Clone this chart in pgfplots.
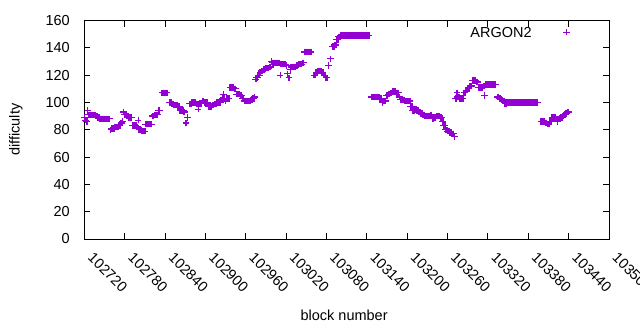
\documentclass[border=0pt]{standalone}
\usepackage{fontspec}
\setmainfont{Liberation Sans}
\usepackage{pgfplots}
\pgfplotsset{compat=1.18}
\definecolor{argon}{HTML}{9400D3}
\begin{document}
\fontsize{14.5}{17}\selectfont
\begin{tikzpicture}
\begin{axis}[
  at={(0pt,0pt)}, anchor=south west,
  scale only axis, width=524.5pt, height=218.5pt,
  xmin=102720, xmax=103500, ymin=0, ymax=160,
  xtick={102720,102780,...,103500},
  ytick={0,20,...,160},
  tick align=inside, major tick length=6pt,
  xtick pos=both, ytick pos=both,
  axis line style={line width=0.9pt},
  every tick/.style={line width=0.9pt, black},
  scaled x ticks=false,
  /pgf/number format/assume math mode=true,
  /pgf/number format/fixed,
  /pgf/number format/precision=0,
  /pgf/number format/1000 sep={},
  xticklabel style={yshift=-16pt, xshift=6pt, rotate=-45, anchor=west, inner sep=0pt},
  yticklabel style={inner sep=0pt, xshift=-14.5pt},
  xlabel={block number}, ylabel={difficulty},
  xlabel style={at={(axis description cs:0.495,-0.348)}, anchor=center},
  ylabel style={at={(axis description cs:-0.1306,0.5)}, anchor=center},
  clip=false,
  legend style={draw=none, fill=none, at={(axis description cs:0.933,0.94)}, anchor=east},
  legend plot pos=right,
  legend image code/.code={\path[draw=none] (0pt,0pt) -- (37pt,0pt); \draw[#1] plot coordinates {(33pt,1.5pt)};},
]
\addplot[only marks, mark=+, mark size=3.2pt, color=argon, line width=1.2pt] coordinates {
(102720,89)(102721,87)(102722,87)(102723,86)(102724,86)(102725,94)
(102726,91)(102727,91)(102728,91)(102729,91)(102730,91)(102731,91)(102732,91)(102733,91)(102734,91)(102735,91)(102736,91)
(102737,90)(102738,90)(102739,90)(102740,89)(102741,89)(102742,89)
(102743,88)(102744,88)(102745,88)(102746,88)(102747,88)(102748,88)(102749,88)(102750,88)(102751,88)(102752,88)(102753,88)(102754,88)(102755,88)(102756,88)(102757,88)
(102759,80)(102760,81)(102761,81)(102762,81)(102763,81)(102764,81)
(102765,82)(102766,82)(102767,82)(102768,82)(102769,82)(102770,82)
(102771,83)(102772,83)(102773,83)(102774,85)(102775,85)(102776,86)(102777,86)(102778,93)
(102779,91)(102780,91)(102781,91)(102782,91)(102783,90)(102784,90)(102785,90)
(102786,89)(102787,89)(102788,89)(102789,89)(102790,89)
(102791,83)(102792,83)(102793,83)(102794,83)(102795,83)(102796,83)(102797,83)(102798,82)(102799,82)(102800,87)
(102801,80)(102802,80)(102803,80)(102804,80)(102805,79)(102806,79)(102807,79)(102808,79)(102809,79)(102810,79)
(102811,84)(102812,84)(102813,84)(102814,84)(102815,84)(102816,84)(102817,84)(102818,84)(102819,84)(102820,84)
(102821,90)(102822,90)(102823,90)(102824,91)(102825,91)(102826,91)(102827,91)(102828,91)(102829,91)
(102830,94)(102831,94)(102832,94)
(102835,107)(102836,107)(102837,107)(102838,107)(102839,107)(102840,107)(102841,107)(102842,107)(102843,107)
(102846,100)(102847,100)(102848,100)(102849,100)(102850,99)(102851,99)(102852,99)
(102853,98)(102854,98)(102855,98)(102856,98)(102857,98)(102858,98)(102859,97)(102860,97)(102861,97)
(102862,94)(102863,94)(102864,94)(102865,94)(102866,94)(102867,94)(102868,93)(102869,93)
(102871,85)(102873,89)
(102876,99)(102877,99)(102878,99)(102879,99)
(102880,100)(102881,100)(102882,100)(102883,100)(102884,100)(102885,100)
(102886,99)(102887,99)(102888,99)(102889,95)(102890,99)(102891,99)(102892,99)(102893,99)(102894,99)
(102895,101)(102896,101)(102897,101)
(102898,100)(102899,100)(102900,100)(102901,100)(102902,100)(102903,100)
(102904,97)(102905,97)(102906,97)(102907,97)(102908,97)(102909,97)
(102910,98)(102911,98)(102912,98)(102913,99)(102914,99)(102915,99)(102916,99)
(102917,100)(102918,100)(102919,100)(102920,100)(102921,100)(102922,100)
(102923,102)(102924,102)(102925,103)(102926,103)(102927,106)(102928,103)(102930,101)
(102931,103)(102932,103)(102933,103)(102934,103)(102935,103)
(102936,111)(102937,111)(102938,111)(102939,111)(102940,111)(102941,111)(102942,111)
(102943,110)(102944,110)(102945,110)
(102946,106)(102947,106)(102948,106)(102949,106)(102950,106)(102951,106)
(102952,105)(102953,105)(102954,105)(102955,103)(102956,103)(102957,103)
(102958,101)(102959,101)(102960,101)(102961,101)(102962,101)(102963,101)(102964,101)(102965,101)(102966,101)
(102967,102)(102968,102)(102969,102)(102970,103)(102971,103)(102972,103)(102973,104)
(102974,117)(102975,117)(102976,118)(102977,118)(102978,120)(102979,120)(102980,120)
(102981,122)(102982,122)(102983,123)(102984,123)(102985,123)(102986,124)(102987,124)(102988,124)
(102989,125)(102990,125)(102991,125)(102992,125)(102993,125)(102994,125)(102995,126)(102996,126)(102997,126)
(102998,130)
(102999,129)(103000,129)(103001,129)(103002,129)(103003,129)(103004,129)(103005,129)(103006,129)(103007,129)(103008,129)(103009,129)(103010,129)
(103011,120)
(103012,128)(103013,128)(103014,128)(103015,128)(103016,128)(103017,128)(103018,128)(103019,128)
(103020,127)(103021,127)(103022,121)(103024,118)(103026,124)
(103027,126)(103028,126)(103029,126)(103030,126)(103031,126)(103032,126)(103033,126)(103034,126)
(103035,127)(103036,127)(103037,127)
(103038,128)(103039,128)(103040,128)(103041,128)(103042,128)(103043,128)
(103044,129)(103045,129)(103046,129)
(103047,137)(103048,137)(103049,137)(103050,137)(103051,137)(103052,137)(103053,137)(103054,137)(103055,137)(103056,137)(103057,137)
(103061,120)(103062,120)(103063,120)(103064,122)(103065,122)(103066,122)
(103067,123)(103068,123)(103069,123)(103070,123)(103071,123)(103072,123)
(103073,122)(103074,122)(103075,122)(103076,120)(103077,120)(103078,120)
(103079,118)(103080,118)(103081,118)
(103083,127)(103086,132)
(103089,141)(103090,141)(103091,141)(103092,142)(103093,142)(103094,142)
(103095,146)(103096,146)(103097,146)(103098,148)(103099,148)(103100,148)
(103101,149)(103102,149)(103103,149)(103104,149)(103105,149)(103106,149)(103107,149)(103108,149)(103109,149)(103110,149)
(103111,149)(103112,149)(103113,149)(103114,149)(103115,149)(103116,149)(103117,149)(103118,149)(103119,149)(103120,149)
(103121,149)(103122,149)(103123,149)(103124,149)(103125,149)(103126,149)(103127,149)(103128,149)(103129,149)(103130,149)
(103131,149)(103132,149)(103133,149)(103134,149)(103135,149)(103136,149)(103137,149)(103138,149)(103139,149)(103140,149)
(103141,149)(103142,149)(103143,149)
(103147,104)(103148,104)(103149,104)(103150,104)(103151,104)(103152,104)(103153,104)(103154,104)(103155,104)(103156,104)(103157,104)(103158,104)
(103159,103)(103160,103)(103161,103)(103163,100)
(103165,101)(103166,101)(103167,101)(103168,101)
(103169,105)(103170,105)(103171,105)(103172,106)(103173,106)(103174,106)
(103175,107)(103176,107)(103177,107)
(103178,108)(103179,108)(103180,108)(103181,108)(103182,108)(103183,108)
(103184,107)(103185,107)(103186,107)(103187,107)
(103188,104)(103189,104)
(103190,102)(103191,102)(103192,102)(103193,102)(103194,102)(103195,102)
(103196,101)(103197,101)(103198,101)(103199,101)(103200,101)(103201,101)(103202,101)(103203,101)(103204,101)
(103205,97)(103206,97)(103207,97)
(103208,94)(103209,94)(103210,94)(103211,95)(103212,95)(103213,95)(103214,94)(103215,94)(103216,94)
(103217,93)(103218,93)(103219,93)(103220,92)(103221,92)(103222,92)(103223,91)(103224,91)(103225,91)
(103226,90)(103227,90)(103228,90)(103229,90)(103230,90)(103231,90)(103232,90)(103233,90)(103234,90)
(103235,91)(103236,91)(103237,88)(103238,88)(103239,88)(103240,89)(103241,89)(103242,89)
(103243,90)(103244,90)(103245,90)(103246,90)(103247,90)(103248,90)
(103249,89)(103250,89)(103251,89)(103252,86)(103253,86)
(103254,83)(103255,83)(103256,83)(103257,80)(103258,80)(103259,80)
(103260,79)(103261,79)(103262,79)(103263,78)(103264,78)(103265,78)
(103266,77)(103267,77)(103268,77)(103269,77)(103270,75)
(103272,103)(103273,103)(103274,107)(103275,104)(103276,104)(103277,104)
(103278,103)(103279,103)(103280,103)(103281,103)(103282,103)(103283,103)
(103284,107)(103285,107)(103286,107)(103287,109)(103288,109)(103289,109)
(103290,110)(103291,110)(103292,110)(103293,112)(103294,112)(103295,112)(103296,112)
(103297,116)(103298,116)(103299,116)(103300,116)(103301,116)(103302,116)
(103303,115)(103304,115)(103305,115)
(103306,111)(103307,111)(103308,111)(103309,111)(103310,111)(103311,111)(103312,111)
(103313,112)(103314,112)(103315,105)
(103317,113)(103318,113)(103319,113)(103320,113)(103321,113)(103322,113)(103323,113)(103324,113)
(103325,113)(103326,113)(103327,113)(103328,113)(103329,113)(103330,113)(103331,113)
(103334,104)(103335,104)(103336,104)(103337,103)(103338,103)(103339,103)
(103340,102)(103341,102)(103342,102)(103343,101)(103344,101)
(103345,99)(103346,99)(103347,99)
(103348,100)(103349,100)(103350,100)(103351,100)(103352,100)(103353,100)(103354,100)(103355,100)(103356,100)(103357,100)
(103358,100)(103359,100)(103360,100)(103361,100)(103362,100)(103363,100)(103364,100)(103365,100)(103366,100)(103367,100)
(103368,100)(103369,100)(103370,100)(103371,100)(103372,100)(103373,100)(103374,100)(103375,100)(103376,100)(103377,100)
(103378,100)(103379,100)(103380,100)(103381,100)(103382,100)(103383,100)(103384,100)(103385,100)(103386,100)(103387,100)
(103388,100)(103389,100)(103390,100)(103391,100)(103392,100)(103393,100)(103394,100)
(103399,86)(103400,86)(103401,86)(103402,86)(103403,86)(103404,86)
(103405,85)(103406,85)(103407,85)
(103408,84)(103409,84)(103410,84)(103411,84)
(103412,86)(103413,86)(103414,86)
(103415,89)(103416,89)(103417,89)(103418,89)(103419,89)(103420,89)
(103421,88)(103422,88)(103423,86)
(103424,88)(103425,88)(103426,88)(103427,88)
(103428,89)(103429,89)(103430,89)(103431,90)(103432,90)
(103433,91)(103434,91)(103435,91)(103436,92)(103437,92)
(103438,93)(103439,93)(103440,93)
};
\addlegendentry{ARGON2}
\end{axis}
\pgfresetboundingbox
\useasboundingbox (-84.5pt,-91pt) rectangle (555.5pt,239pt);
\end{tikzpicture}
\end{document}
